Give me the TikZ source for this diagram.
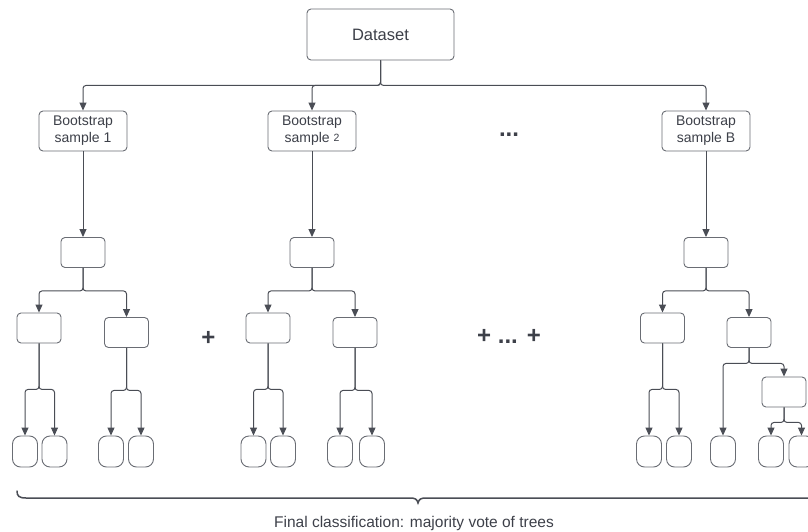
\documentclass[tikz,border=0pt]{standalone}
\usepackage{fontspec}
\setmainfont{Liberation Sans}
\usetikzlibrary{arrows.meta}
\definecolor{ink}{HTML}{3D4049}
\definecolor{edge}{HTML}{6A6D74}
\definecolor{wire}{HTML}{4A4D55}
\begin{document}
\begin{tikzpicture}[x=1pt,y=-1pt,
  box/.style={draw=edge, line width=0.9pt, rounded corners=4pt, inner sep=0pt, fill=white},
  big/.style={box, minimum width=147pt, minimum height=51pt, font=\fontsize{16.5}{20}\selectfont, text=ink},
  boot/.style={box, minimum width=88pt, minimum height=40pt, align=center, font=\fontsize{14}{17}\selectfont, text=ink},
  split/.style={box, minimum width=44pt, minimum height=30pt},
  leaf/.style={draw=edge, line width=0.9pt, rounded corners=8pt, minimum width=25pt, minimum height=31pt, inner sep=0pt, fill=white},
  conn/.style={draw=wire, line width=1pt, rounded corners=3pt, -{Triangle[length=8pt,width=7pt]}},
  op/.style={text=ink, font=\fontsize{24}{28}\bfseries\selectfont, inner sep=0pt},
  caption/.style={text=ink, font=\fontsize{15.5}{18}\selectfont, inner sep=0pt}
]
\useasboundingbox (0,0) rectangle (808,532);
\clip (0,0) rectangle (808,532);

% data set and bootstrap samples
\node[big] (ds) at (380.5,34.5) {Dataset};
\node[boot] (bs1) at (83,131) {Bootstrap\\sample 1};
\node[boot] (bs2) at (312,131) {Bootstrap\\sample \raisebox{1pt}{\fontsize{10.5}{12}\selectfont 2}};
\node[boot] (bsb) at (706,131) {Bootstrap\\sample B};
\node[op, anchor=base] (dtop) at (509,136.5) {...};

\draw[conn] (ds.south) -- ++(0,25) -| (bs1.north);
\draw[conn] (ds.south) -- ++(0,25) -| (bs2.north);
\draw[conn] (ds.south) -- ++(0,25) -| (bsb.north);

% tree 1
\node[split] (t1) at (83,252.5) {};
\node[split] (t1l) at (39,328) {};
\node[split] (t1r) at (126.5,332.5) {};
\node[leaf] (t1la) at (25,451.5) {};
\node[leaf] (t1lb) at (54.5,451.5) {};
\node[leaf] (t1ra) at (111,451.5) {};
\node[leaf] (t1rb) at (141,451.5) {};
\draw[conn] (bs1.south) -- (t1.north);
\draw[conn] (t1.south) -- ++(0,23) -| (t1l.north);
\draw[conn] (t1.south) -- ++(0,23) -| (t1r.north);
\draw[conn] (t1l.south) -- ++(0,46) -| (t1la.north);
\draw[conn] (t1l.south) -- ++(0,46) -| (t1lb.north);
\draw[conn] (t1r.south) -- ++(0,42.5) -| (t1ra.north);
\draw[conn] (t1r.south) -- ++(0,42.5) -| (t1rb.north);

% tree 2
\node[split] (t2) at (312,252.5) {};
\node[split] (t2l) at (268,328) {};
\node[split] (t2r) at (355,332.5) {};
\node[leaf] (t2la) at (253.5,451.5) {};
\node[leaf] (t2lb) at (283,451.5) {};
\node[leaf] (t2ra) at (340,451.5) {};
\node[leaf] (t2rb) at (372,451.5) {};
\draw[conn] (bs2.south) -- (t2.north);
\draw[conn] (t2.south) -- ++(0,23) -| (t2l.north);
\draw[conn] (t2.south) -- ++(0,23) -| (t2r.north);
\draw[conn] (t2l.south) -- ++(0,46) -| (t2la.north);
\draw[conn] (t2l.south) -- ++(0,46) -| (t2lb.north);
\draw[conn] (t2r.south) -- ++(0,42.5) -| (t2ra.north);
\draw[conn] (t2r.south) -- ++(0,42.5) -| (t2rb.north);

% tree B
\node[split] (tb) at (706,252.5) {};
\node[split] (tbl) at (662.5,328) {};
\node[split] (tbr) at (749,332.5) {};
\node[leaf] (tbla) at (649,451.5) {};
\node[leaf] (tblb) at (679,451.5) {};
\node[leaf] (tbm) at (723,451.5) {};
\node[split] (tbx) at (784,392) {};
\node[leaf] (tbxa) at (771,451.5) {};
\node[leaf] (tbxb) at (801.5,451.5) {};
\draw[conn] (bsb.south) -- (tb.north);
\draw[conn] (tb.south) -- ++(0,23) -| (tbl.north);
\draw[conn] (tb.south) -- ++(0,23) -| (tbr.north);
\draw[conn] (tbl.south) -- ++(0,46) -| (tbla.north);
\draw[conn] (tbl.south) -- ++(0,46) -| (tblb.north);
\draw[conn] (tbr.south) -- ++(0,15.5) -| (tbm.north);
\draw[conn] (tbr.south) -- ++(0,15.5) -| (tbx.north);
\draw[conn] (tbx.south) -- ++(0,15) -| (tbxa.north);
\draw[conn] (tbx.south) -- ++(0,15) -| (tbxb.north);

% ensemble sum
\node[op, anchor=base] (plus1) at (208.5,345) {+};
\node[op, anchor=base] (plus2) at (509,343) {+ ... +};

% brace and final vote
\draw[wire, line width=1.5pt, line cap=round]
  (17,491) .. controls (17,496) and (19,498) .. (26,498) -- (410,498)
  .. controls (415,498) and (417,499) .. (418,503)
  .. controls (419,499) and (421,498) .. (426,498) -- (812,498);
\node[caption] (vote) at (414,523) {Final classification: majority vote of trees};
\end{tikzpicture}
\end{document}
